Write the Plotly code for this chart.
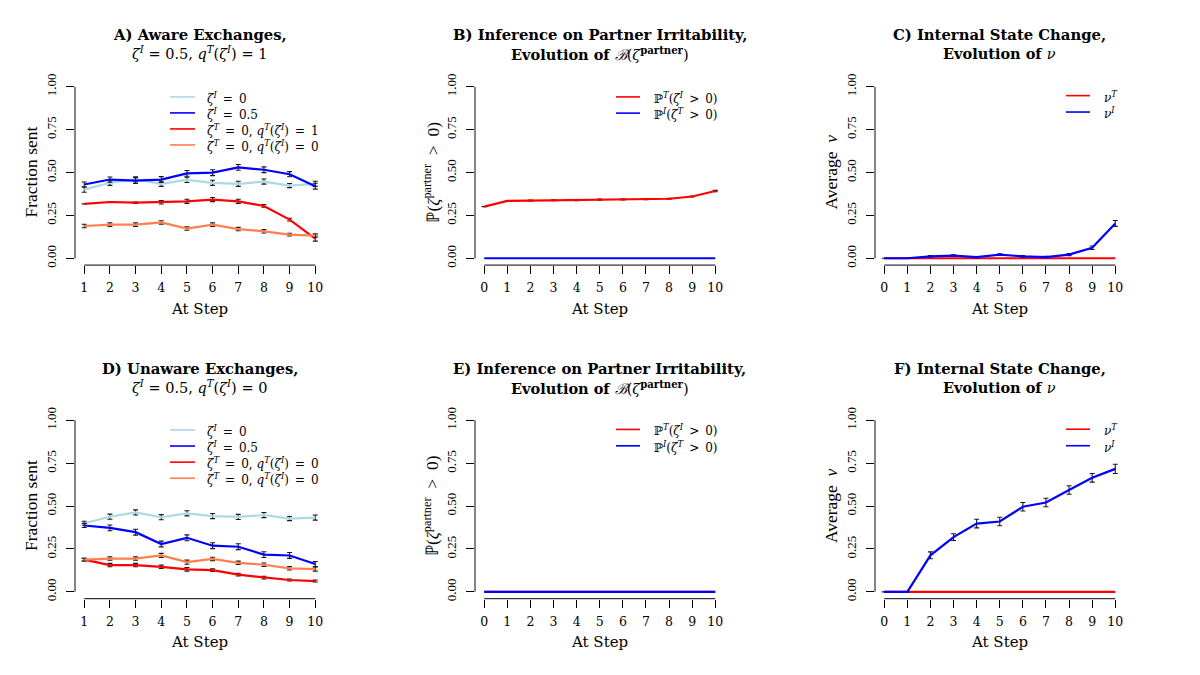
import plotly.graph_objects as go

# ---------------- data ----------------
steps_ad = [1, 2, 3, 4, 5, 6, 7, 8, 9, 10]
steps_bcef = [0, 1, 2, 3, 4, 5, 6, 7, 8, 9, 10]

# Panel A: aware exchanges
a_zi0 = [0.400, 0.440, 0.460, 0.434, 0.457, 0.440, 0.434, 0.447, 0.424, 0.434]
a_zi0_err = [0.015, 0.015, 0.015, 0.015, 0.015, 0.015, 0.015, 0.015, 0.012, 0.015]
a_zi05 = [0.430, 0.459, 0.453, 0.459, 0.495, 0.499, 0.530, 0.516, 0.490, 0.420]
a_zi05_err = [0.015, 0.015, 0.017, 0.017, 0.017, 0.017, 0.017, 0.017, 0.015, 0.017]
a_zt_q1 = [0.317, 0.328, 0.324, 0.326, 0.332, 0.342, 0.332, 0.305, 0.225, 0.115]
a_zt_q1_err = [0.0, 0.0, 0.004, 0.010, 0.012, 0.012, 0.012, 0.008, 0.008, 0.015]
a_zt_q0 = [0.188, 0.196, 0.196, 0.209, 0.173, 0.196, 0.170, 0.157, 0.138, 0.132]
a_zt_q0_err = [0.010, 0.010, 0.010, 0.010, 0.010, 0.010, 0.010, 0.010, 0.008, 0.010]

# Panel B: inference on partner irritability (aware)
b_pt = [0.301, 0.334, 0.336, 0.338, 0.339, 0.342, 0.343, 0.344, 0.347, 0.360, 0.392]
b_pt_err = [0.0, 0.0, 0.003, 0.003, 0.003, 0.003, 0.003, 0.003, 0.003, 0.003, 0.004]
b_pi = [0, 0, 0, 0, 0, 0, 0, 0, 0, 0, 0]

# Panel C: internal state change (aware)
c_nut = [0, 0, 0, 0, 0, 0, 0, 0, 0, 0, 0]
c_nui = [0.0, 0.0, 0.011, 0.015, 0.006, 0.021, 0.011, 0.007, 0.021, 0.061, 0.203]
c_nui_err = [0.0, 0.0, 0.005, 0.005, 0.004, 0.005, 0.005, 0.004, 0.006, 0.010, 0.017]

# Panel D: unaware exchanges
d_zi0 = [0.400, 0.438, 0.463, 0.435, 0.458, 0.442, 0.437, 0.448, 0.427, 0.433]
d_zi0_err = [0.012, 0.015, 0.015, 0.015, 0.015, 0.015, 0.015, 0.015, 0.012, 0.015]
d_zi05 = [0.387, 0.373, 0.348, 0.279, 0.315, 0.269, 0.263, 0.217, 0.212, 0.162]
d_zi05_err = [0.012, 0.017, 0.017, 0.017, 0.017, 0.017, 0.017, 0.017, 0.017, 0.015]
d_zt_q0a = [0.188, 0.156, 0.156, 0.146, 0.131, 0.127, 0.100, 0.083, 0.069, 0.063]
d_zt_q0a_err = [0.008, 0.010, 0.010, 0.010, 0.010, 0.008, 0.008, 0.008, 0.006, 0.006]
d_zt_q0b = [0.188, 0.194, 0.194, 0.212, 0.173, 0.192, 0.169, 0.158, 0.137, 0.133]
d_zt_q0b_err = [0.008, 0.010, 0.010, 0.012, 0.012, 0.010, 0.010, 0.010, 0.010, 0.012]

# Panel E: inference (unaware)
e_pt = [0, 0, 0, 0, 0, 0, 0, 0, 0, 0, 0]
e_pi = [0, 0, 0, 0, 0, 0, 0, 0, 0, 0, 0]

# Panel F: internal state change (unaware)
f_nut = [0, 0, 0, 0, 0, 0, 0, 0, 0, 0, 0]
f_nui = [0.0, 0.0, 0.213, 0.319, 0.398, 0.410, 0.496, 0.521, 0.594, 0.665, 0.717]
f_nui_err = [0.0, 0.0, 0.020, 0.020, 0.025, 0.025, 0.025, 0.025, 0.025, 0.025, 0.027]

y_ticks = [0, 0.25, 0.5, 0.75, 1.0]
y_ticktext = ["0.00", "0.25", "0.50", "0.75", "1.00"]

# ---------------- labels ----------------
EQ = "\u2002=\u2002"
TEQ = " = "
ZI = "<i>ζ</i><sup><i>I</i></sup>"
ZT = "<i>ζ</i><sup><i>T</i></sup>"
QT = "<i>q</i><sup><i>T</i></sup>"
lab_zi0 = f"{ZI}{EQ}0"
lab_zi05 = f"{ZI}{EQ}0.5"
lab_zt_q1 = f"{ZT}{EQ}0, {QT}({ZI}){EQ}1"
lab_zt_q0 = f"{ZT}{EQ}0, {QT}({ZI}){EQ}0"
lab_pt = f"ℙ<sup><i>T</i></sup>(<i>ζ</i><sup><i>I</i></sup>\u2002>\u20020)"
lab_pi = f"ℙ<sup><i>I</i></sup>(<i>ζ</i><sup><i>T</i></sup>\u2002>\u20020)"
lab_nut = "<i>ν</i><sup><i>T</i></sup>"
lab_nui = "<i>ν</i><sup><i>I</i></sup>"

titles = {
    1: ("<b>A) Aware Exchanges,</b>", f"{ZI}{TEQ}0.5, {QT}({ZI}){TEQ}1"),
    2: ("<b>B) Inference on Partner Irritability,</b>",
        "<b>Evolution of </b><i>ℬ</i>(<i>ζ</i><sup><b>partner</b></sup>)"),
    3: ("<b>C) Internal State Change,</b>", "<b>Evolution of </b><i>ν</i>"),
    4: ("<b>D) Unaware Exchanges,</b>", f"{ZI}{TEQ}0.5, {QT}({ZI}){TEQ}0"),
    5: ("<b>E) Inference on Partner Irritability,</b>",
        "<b>Evolution of </b><i>ℬ</i>(<i>ζ</i><sup><b>partner</b></sup>)"),
    6: ("<b>F) Internal State Change,</b>", "<b>Evolution of </b><i>ν</i>"),
}
ytitles = {
    1: "Fraction sent",
    2: "ℙ(<i>ζ</i><sup>partner</sup>\u2002>\u20020)",
    3: "Average\u2002<i>ν</i>",
    4: "Fraction sent",
    5: "ℙ(<i>ζ</i><sup>partner</sup>\u2002>\u20020)",
    6: "Average\u2002<i>ν</i>",
}

LIGHTBLUE = "#ADD8E6"
BLUE = "#0000FF"
RED = "#FF0000"
CORAL = "#FF7F50"

FONT = "DejaVu Serif"        # horizontal text
VFONT = "Liberation Serif"   # rotated (vertical) text
W, H = 1200, 675

fig = go.Figure()
legend_entries = {n: [] for n in range(1, 7)}


def add(n, x, y, err, color, name):
    ax = "" if n == 1 else str(n)
    kw = {}
    if err is not None:
        kw["error_y"] = dict(type="data", array=err, visible=True, color="#1a1a1a",
                             thickness=1.1, width=2.5)
    fig.add_trace(go.Scatter(
        x=x, y=y, mode="lines", name=name,
        line=dict(color=color, width=2.2),
        xaxis="x" + ax, yaxis="y" + ax, showlegend=False, **kw))
    legend_entries[n].append((color, name))


# Panel A
add(1, steps_ad, a_zi0, a_zi0_err, LIGHTBLUE, lab_zi0)
add(1, steps_ad, a_zi05, a_zi05_err, BLUE, lab_zi05)
add(1, steps_ad, a_zt_q1, a_zt_q1_err, RED, lab_zt_q1)
add(1, steps_ad, a_zt_q0, a_zt_q0_err, CORAL, lab_zt_q0)
# Panel B
add(2, steps_bcef, b_pt, b_pt_err, RED, lab_pt)
add(2, steps_bcef, b_pi, None, BLUE, lab_pi)
# Panel C
add(3, steps_bcef, c_nut, None, RED, lab_nut)
add(3, steps_bcef, c_nui, c_nui_err, BLUE, lab_nui)
# Panel D
add(4, steps_ad, d_zi0, d_zi0_err, LIGHTBLUE, lab_zi0)
add(4, steps_ad, d_zi05, d_zi05_err, BLUE, lab_zi05)
add(4, steps_ad, d_zt_q0a, d_zt_q0a_err, RED, lab_zt_q0)
add(4, steps_ad, d_zt_q0b, d_zt_q0b_err, CORAL, lab_zt_q0)
# Panel E
add(5, steps_bcef, e_pt, None, RED, lab_pt)
add(5, steps_bcef, e_pi, None, BLUE, lab_pi)
# Panel F
add(6, steps_bcef, f_nut, None, RED, lab_nut)
add(6, steps_bcef, f_nui, f_nui_err, BLUE, lab_nui)

# ---------------- layout geometry (pixels) ----------------
col_left = [75, 475, 875]
col_width = 249.5
row_top = [74.8, 412.4]      # top of plotting region (px from top)
row_height = 187.4
x_steps = {1: steps_ad, 2: steps_bcef, 3: steps_bcef,
           4: steps_ad, 5: steps_bcef, 6: steps_bcef}
# legend box: (swatch start, swatch end, text start, first row y, row step)
legend_geom = {1: (170, 195, 205, 92.0, 16.2),
               2: (616, 640, 652, 92.0, 16.4),
               3: (1066, 1090, 1102, 90.7, 16.6),
               4: (170, 195, 205, 429.0, 16.3),
               5: (616, 640, 652, 428.5, 16.6),
               6: (1066, 1090, 1102, 428.3, 16.7)}

layout = dict(
    width=W, height=H, margin=dict(l=0, r=0, t=0, b=0),
    paper_bgcolor="white", plot_bgcolor="white",
    font=dict(family=FONT, color="black", size=12),
    showlegend=False,
)
annotations = []
shapes = []

for n in range(1, 7):
    r = (n - 1) // 3
    c = (n - 1) % 3
    ax = "" if n == 1 else str(n)
    xs = x_steps[n]
    span = max(xs) - min(xs)
    xr = [min(xs) - 0.04 * span, max(xs) + 0.04 * span]
    x0p = col_left[c] / W
    x1p = (col_left[c] + col_width) / W
    y1p = 1 - row_top[r] / H
    y0p = 1 - (row_top[r] + row_height) / H
    common = dict(showgrid=False, zeroline=False, showline=False, ticks="outside",
                  ticklen=8, tickwidth=1, tickcolor="black")
    layout["xaxis" + ax] = dict(domain=[x0p, x1p], range=xr, tickvals=xs,
                                anchor="y" + ax, ticklabelstandoff=3,
                                tickfont=dict(family=FONT, size=12.5, color="black"),
                                **common)
    layout["yaxis" + ax] = dict(domain=[y0p, y1p], range=[-0.04, 1.04],
                                tickvals=y_ticks, ticktext=y_ticktext,
                                tickangle=-90, anchor="x" + ax,
                                ticklabelstandoff=5,
                                tickfont=dict(family=VFONT, size=13, color="black"),
                                **common)
    # axis lines spanning only the tick range (R style)
    shapes.append(dict(type="line", xref="x" + ax, yref="y" + ax + " domain",
                       x0=min(xs), x1=max(xs), y0=0, y1=0,
                       line=dict(color="black", width=1)))
    shapes.append(dict(type="line", xref="x" + ax + " domain", yref="y" + ax,
                       x0=0, x1=0, y0=min(y_ticks), y1=max(y_ticks),
                       line=dict(color="#333333", width=1.2)))
    # titles
    t1, t2 = titles[n]
    tb = [28.5, 366.5][r]
    annotations.append(dict(text=t1, xref="x" + ax + " domain", x=0.5,
                            yref="paper", y=1 - tb / H, yanchor="middle",
                            showarrow=False, font=dict(family=FONT, size=14.8)))
    annotations.append(dict(text=t2, xref="x" + ax + " domain", x=0.5,
                            yref="paper", y=1 - (tb + 19.5) / H, yanchor="middle",
                            showarrow=False, font=dict(family=FONT, size=14.5)))
    # x axis title
    annotations.append(dict(text="At Step", xref="x" + ax + " domain", x=0.5,
                            yref="paper", y=1 - [306.7, 644][r] / H, yanchor="middle",
                            showarrow=False, font=dict(family=FONT, size=15)))
    # y axis title
    annotations.append(dict(text=ytitles[n], xref="paper",
                            x=(col_left[c] - 44) / W, xanchor="center",
                            yref="y" + ax + " domain", y=0.5, yanchor="middle",
                            textangle=-90, showarrow=False,
                            font=dict(family=VFONT, size=17.5)))
    # legend (swatch + label per entry)
    sx0, sx1, tx, ry, rs = legend_geom[n]
    for i, (color, name) in enumerate(legend_entries[n]):
        yy = ry + i * rs
        shapes.append(dict(type="line", xref="paper", yref="paper",
                           x0=sx0 / W, x1=sx1 / W, y0=1 - yy / H, y1=1 - yy / H,
                           line=dict(color=color, width=1.6)))
        annotations.append(dict(text=name, xref="paper", yref="paper",
                                x=tx / W, y=1 - (yy + 1.0) / H,
                                xanchor="left", yanchor="middle", showarrow=False,
                                font=dict(family=FONT, size=12, color="black")))

layout["annotations"] = annotations
layout["shapes"] = shapes
fig.update_layout(**layout)
fig.write_html("out.html")
